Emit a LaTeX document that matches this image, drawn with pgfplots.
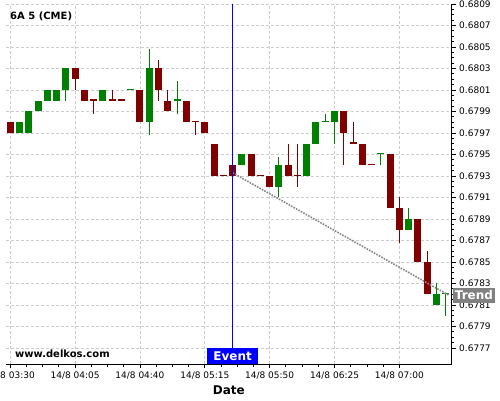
\documentclass[border=0pt]{standalone}
\usepackage{fontspec}
\setmainfont{DejaVu Sans}
\usepackage{pgfplots}
\usepackage{pgfplotstable}
\pgfplotsset{compat=1.18}
\definecolor{cgreen}{RGB}{0,128,0}
\definecolor{cred}{RGB}{128,0,0}
\definecolor{tgray}{RGB}{128,128,128}
\definecolor{tline}{RGB}{135,135,135}

% up (green) candles: index, open, high, low, close
\pgfplotstableread{
x o h l c
1 0.6797 0.6798 0.6797 0.6798
2 0.6797 0.6799 0.6797 0.6799
3 0.6799 0.6800 0.6799 0.6800
4 0.6800 0.6801 0.6800 0.6801
5 0.6800 0.6801 0.6800 0.6801
6 0.6801 0.6803 0.6800 0.6803
10 0.6800 0.6801 0.6800 0.6801
13 0.6801 0.6801 0.6801 0.6801
15 0.6798 0.68048 0.67968 0.6803
18 0.6800 0.68018 0.67988 0.6800
25 0.6794 0.6795 0.6794 0.6795
29 0.6792 0.67948 0.6791 0.6794
32 0.6793 0.6796 0.6793 0.6796
33 0.6796 0.6798 0.6796 0.6798
34 0.6798 0.67988 0.6798 0.6798
35 0.6798 0.6799 0.6796 0.6799
40 0.6795 0.6795 0.6794 0.6795
43 0.6788 0.6790 0.6788 0.6789
46 0.6781 0.6783 0.6781 0.6782
47 0.6782 0.6782 0.6780 0.6782
}\upcandles

% down (red) candles
\pgfplotstableread{
x o h l c
0 0.6798 0.6798 0.6797 0.6797
7 0.6803 0.6803 0.6801 0.6802
8 0.6801 0.6801 0.6800 0.6800
9 0.6800 0.6800 0.67988 0.6800
11 0.6800 0.6801 0.6800 0.6800
12 0.6800 0.6800 0.6800 0.6800
14 0.6801 0.6801 0.6798 0.6798
16 0.6803 0.68038 0.6800 0.6801
17 0.6800 0.6801 0.6799 0.6799
19 0.6800 0.6800 0.6798 0.6798
20 0.6798 0.6798 0.67968 0.6798
21 0.6798 0.6798 0.6797 0.6797
22 0.6796 0.6796 0.6793 0.6793
23 0.6793 0.6793 0.6793 0.6793
24 0.6794 0.6794 0.6793 0.6793
26 0.6795 0.6795 0.6793 0.6793
27 0.6793 0.6793 0.6793 0.6793
28 0.6793 0.6793 0.6792 0.6792
30 0.6794 0.6796 0.6793 0.6793
31 0.6793 0.6796 0.6792 0.6793
36 0.6799 0.6799 0.6794 0.6797
37 0.6796 0.6798 0.6796 0.6796
38 0.6796 0.6796 0.6794 0.6794
39 0.6794 0.6794 0.6794 0.6794
41 0.6795 0.6795 0.6790 0.6790
42 0.6790 0.6791 0.67868 0.6788
44 0.6789 0.6789 0.6785 0.6785
45 0.6785 0.6786 0.6782 0.6782
}\downcandles

\begin{document}
\begin{tikzpicture}
\begin{axis}[
  scale only axis, width=445.7pt, height=360pt,
  xmin=-0.46, xmax=47.65, ymin=0.677551, ymax=0.6809,
  axis x line*=bottom, axis y line*=right,
  axis line style={-, line width=0.8pt},
  every outer x axis line/.append style={-},
  every outer y axis line/.append style={-},
  xtick={0,7,14,21,28,35,42},
  xticklabels={14/8 03:30,14/8 04:05,14/8 04:40,14/8 05:15,14/8 05:50,14/8 06:25,14/8 07:00},
  ytick={0.6777,0.6779,0.6781,0.6783,0.6785,0.6787,0.6789,0.6791,0.6793,0.6795,0.6797,0.6799,0.6801,0.6803,0.6805,0.6807,0.6809},
  yticklabels={0.6777,0.6779,0.6781,0.6783,0.6785,0.6787,0.6789,0.6791,0.6793,0.6795,0.6797,0.6799,0.6801,0.6803,0.6805,0.6807,0.6809},
  minor x tick num=3, minor y tick num=3,
  tick align=outside, major tick length=4pt, minor tick length=2.5pt,
  tick style={black, line width=0.8pt},
  grid=major,
  major grid style={black!20, line width=0.8pt, dash pattern=on 3pt off 2pt},
  tick label style={font=\fontsize{9}{10}\selectfont},
  xlabel={Date},
  xlabel style={font=\bfseries\fontsize{12}{14}\selectfont},
  clip=false,
  /pgf/number format/assume math mode=true,
]
% wicks
\addplot[draw=none, mark=none, forget plot,
  error bars/.cd, y dir=plus, y explicit, error mark=none,
  error bar style={draw=cgreen, line width=1pt}]
  table[x=x, y=l, y error expr=\thisrow{h}-\thisrow{l}] {\upcandles};
\addplot[draw=none, mark=none, forget plot,
  error bars/.cd, y dir=plus, y explicit, error mark=none,
  error bar style={draw=cred, line width=1pt}]
  table[x=x, y=l, y error expr=\thisrow{h}-\thisrow{l}] {\downcandles};
% bodies
\addplot[draw=none, mark=none, forget plot,
  error bars/.cd, y dir=plus, y explicit, error mark=none,
  error bar style={draw=cgreen, line width=7pt}]
  table[x=x, y expr={min(\thisrow{o},\thisrow{c})}, y error expr={max(abs(\thisrow{c}-\thisrow{o}),0.000012)}] {\upcandles};
\addplot[draw=none, mark=none, forget plot,
  error bars/.cd, y dir=plus, y explicit, error mark=none,
  error bar style={draw=cred, line width=7pt}]
  table[x=x, y expr={min(\thisrow{o},\thisrow{c})}, y error expr={max(abs(\thisrow{c}-\thisrow{o}),0.000012)}] {\downcandles};
% trend line
\addplot[tline, line width=1.6pt, dash pattern=on 1.6pt off 1.2pt, forget plot]
  coordinates {(24,0.67933) (47.35,0.67819)};
% event line
\addplot[blue, line width=1.1pt, forget plot]
  coordinates {(24,0.677551) (24,0.6809)};

\node[anchor=base west, inner sep=0, font=\bfseries\fontsize{10}{12}\selectfont]
  at ([xshift=4pt,yshift=-15pt]rel axis cs:0,1) {6A 5 (CME)};
\node[anchor=base west, inner sep=0, font=\bfseries\fontsize{10}{12}\selectfont]
  at ([xshift=9pt,yshift=7pt]rel axis cs:0,0) {www.delkos.com};
\node[fill=blue, text=white, font=\bfseries\fontsize{12}{14}\selectfont, anchor=south,
  inner xsep=6pt, inner ysep=0pt, minimum height=16pt, text depth=0pt]
  at (axis cs:24,0.677551) {Event};
\coordinate (trendend) at (axis cs:47.65,0.67819);
\coordinate (bl) at (rel axis cs:0,0);
\coordinate (tl) at (rel axis cs:0,1);
\end{axis}
\node[fill=tgray, text=white, font=\bfseries\fontsize{12}{14}\selectfont, anchor=west,
  inner xsep=2pt, inner ysep=0pt, minimum height=15pt, text depth=0pt]
  at ([xshift=1pt]trendend) {Trend};
\pgfresetboundingbox
\path[use as bounding box] ([xshift=-6pt,yshift=4pt]tl) rectangle ([xshift=494pt,yshift=-36pt]bl);
\end{tikzpicture}
\end{document}
